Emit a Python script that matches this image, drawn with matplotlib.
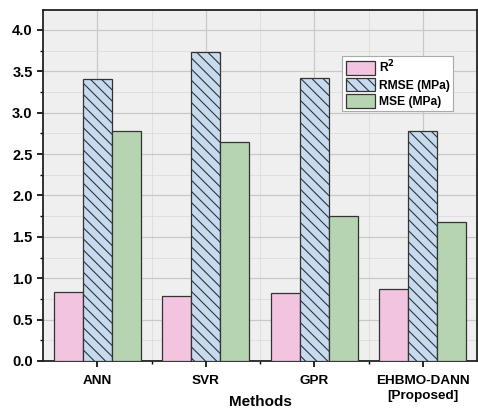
import numpy as np
import matplotlib.pyplot as plt
from matplotlib.ticker import MultipleLocator, FixedLocator

plt.rcParams['font.family'] = ['Liberation Sans', 'DejaVu Sans']
plt.rcParams['font.weight'] = 'bold'
plt.rcParams['hatch.color'] = '#3a4a5a'
plt.rcParams['hatch.linewidth'] = 0.8

# data
methods = ['ANN', 'SVR', 'GPR', 'EHBMO-DANN\n[Proposed]']
r2 = [0.83, 0.79, 0.82, 0.87]
rmse = [3.41, 3.73, 3.42, 2.78]
mse = [2.78, 2.65, 1.75, 1.68]

x = np.arange(len(methods))
w = 0.267

fig = plt.figure(figsize=(4.78, 4.09), dpi=100)
ax = fig.add_axes([0.09, 0.1174, 0.908, 0.858])
ax.set_facecolor('#efefef')

ax.bar(x - w, r2, w, color='#f3c4df', edgecolor='#333333', linewidth=0.9, label='R$^2$', zorder=3)
ax.bar(x, rmse, w, color='#c6dbef', edgecolor='#333333', linewidth=0.9, hatch='\\\\\\', label='RMSE (MPa)', zorder=3)
ax.bar(x + w, mse, w, color='#b7d4b2', edgecolor='#333333', linewidth=0.9, label='MSE (MPa)', zorder=3)

ax.set_xlim(-0.5, 3.5)
ax.set_ylim(0, 4.24)
ax.set_xticks(x)
ax.set_xticklabels(methods, fontsize=9.7, fontweight='bold', linespacing=1.35)
ax.xaxis.set_minor_locator(FixedLocator([0.5, 1.5, 2.5]))
ax.yaxis.set_major_locator(MultipleLocator(0.5))
ax.yaxis.set_minor_locator(MultipleLocator(0.25))
for lab in ax.get_yticklabels():
    lab.set_fontsize(10.5)
    lab.set_fontweight('bold')

ax.tick_params(which='major', direction='out', length=4, width=1.2)
ax.tick_params(axis='x', which='major', pad=6)
ax.tick_params(which='minor', direction='out', length=2.5, width=1)
ax.grid(which='major', color='#c8c8c8', linewidth=0.9, zorder=0)
ax.grid(which='minor', color='#dcdcdc', linewidth=0.6, zorder=0)
ax.set_axisbelow(True)

for s in ax.spines.values():
    s.set_linewidth(1.3)
    s.set_color('#222222')

ax.set_xlabel('Methods', fontsize=11, fontweight='bold')
ax.xaxis.set_label_coords(0.5, -0.098)

leg = ax.legend(loc='upper left', bbox_to_anchor=(0.69, 0.87), fontsize=8.7,
                frameon=True, fancybox=False, edgecolor='#aaaaaa', framealpha=1,
                handlelength=2.4, handleheight=1.35, handletextpad=0.35,
                labelspacing=0.2, borderpad=0.25, borderaxespad=0)
leg.get_frame().set_linewidth(0.8)

fig.savefig('out.png', dpi=100)
